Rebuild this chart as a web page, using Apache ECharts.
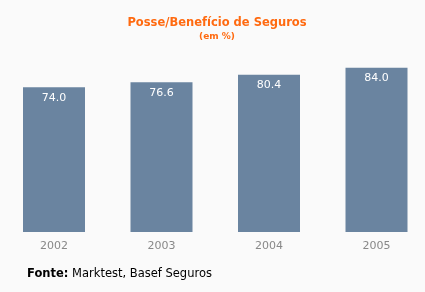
<!DOCTYPE html>
<html><head><meta charset="utf-8">
<script src="https://cdn.jsdelivr.net/npm/echarts@6/dist/echarts.min.js"></script>
<style>html,body{margin:0;padding:0;background:#fafafa;overflow:hidden;width:425px;height:292px}#c{width:431px;height:292px}</style>
</head><body><div id="c"></div>
<script>
var categories = ['2002', '2003', '2004', '2005'];
var values = [74.0, 76.6, 80.4, 84.0];
var titleText = 'Posse/Benefício de Seguros';
var subtitleText = '(em %)';
var sourceLabel = 'Fonte:';
var sourceText = ' Marktest, Basef Seguros';

var chart = echarts.init(document.getElementById('c'), null, {renderer: 'canvas'});
chart.setOption({
  backgroundColor: '#fafafa',
  animation: false,
  title: {
    text: titleText,
    subtext: subtitleText,
    left: 212, textAlign: 'center', top: 12,
    itemGap: 3,
    textStyle: {color: '#ff6a10', fontFamily: 'DejaVu Sans', fontWeight: 'bold', fontSize: 11.5},
    subtextStyle: {color: '#ff6a10', fontFamily: 'DejaVu Sans', fontWeight: 'bold', fontSize: 9}
  },
  graphic: [{
    type: 'text', left: 27, top: 268,
    style: {
      text: '{b|' + sourceLabel + '}{n|' + sourceText + '}',
      rich: {
        b: {fontFamily: 'DejaVu Sans', fontWeight: 'bold', fontSize: 11.5, fill: '#000'},
        n: {fontFamily: 'DejaVu Sans', fontSize: 11.5, fill: '#000'}
      }
    }
  }],
  grid: {left: 0.25, right: 0.75, top: 36.5, bottom: 60, containLabel: false},
  xAxis: {
    type: 'category', data: categories,
    axisLine: {show: false}, axisTick: {show: false},
    axisLabel: {color: '#888', fontFamily: 'DejaVu Sans', fontSize: 11, margin: 9}
  },
  yAxis: {type: 'value', min: 0, max: 100, show: false, splitLine: {show: false}},
  series: [{
    type: 'bar', data: values, barWidth: 62,
    itemStyle: {color: '#6a84a0'},
    label: {
      show: true, position: 'insideTop', distance: 5,
      color: '#fff', fontFamily: 'DejaVu Sans', fontSize: 11,
      formatter: function(p){ return p.value.toFixed(1); }
    }
  }]
});
</script></body></html>
